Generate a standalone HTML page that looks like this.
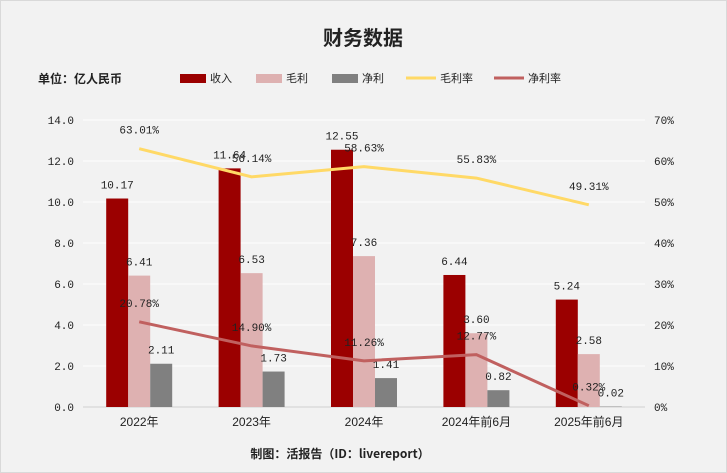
<!DOCTYPE html>
<html><head><meta charset="utf-8"><style>
body{margin:0;background:#fff}
#c{width:727px;height:473px;position:relative;background:#f2f2f2;overflow:hidden;font-family:"Liberation Sans","Noto Sans CJK SC",sans-serif}
svg{position:absolute;left:0;top:0}
</style></head><body>
<div id="c">
<svg id="s" width="727" height="473">
<rect x="0.5" y="0.5" width="726" height="472" fill="none" stroke="#d9d9d9"/>
<text x="363" y="45" text-anchor="middle" font-size="20" font-weight="bold" fill="#222" font-family="Noto Sans CJK SC,sans-serif">财务数据</text>
<text x="38" y="83" font-size="12" font-weight="bold" fill="#222" font-family="Noto Sans CJK SC,sans-serif">单位：亿人民币</text>
<text x="340" y="458" text-anchor="middle" font-size="12" font-weight="bold" fill="#222" font-family="Noto Sans CJK SC,sans-serif">制图：活报告（ID：livereport）</text>
</svg>
</div>
<script>
const categories=["2022年","2023年","2024年","2024年前6月","2025年前6月"];
const revenue=[10.17,11.64,12.55,6.44,5.24];
const grossProfit=[6.41,6.53,7.36,3.60,2.58];
const netProfit=[2.11,1.73,1.41,0.82,0.02];
const grossMargin=[63.01,56.14,58.63,55.83,49.31];
const netMargin=[20.78,14.90,11.26,12.77,0.32];
const leftTicks=[0,2,4,6,8,10,12,14];
const rightTicks=[0,10,20,30,40,50,60,70];
const NS="http://www.w3.org/2000/svg";
const svg=document.getElementById('s');
const L=83,R=645,T=120,B=407;
const yL=v=>B-(v/14)*(B-T);
const yR=v=>B-(v/70)*(B-T);
const bw=(R-L)/categories.length;
const xc=i=>L+bw*(i+0.5);
function mk(tag,a){const e=document.createElementNS(NS,tag);for(const k in a)e.setAttribute(k,a[k]);svg.appendChild(e);return e;}
function txt(x,y,s,a,size,fam){const t=mk('text',{x:x,y:y,'text-anchor':a||'middle','font-size':size||11,fill:'#222','font-family':fam||'Liberation Mono,monospace'});t.textContent=s;return t;}
leftTicks.forEach((v,i)=>{
 const g=mk('line',{x1:L,x2:R,y1:yL(v),y2:yL(v),stroke:v===0?'#d0d0d0':'#ffffff','stroke-width':1});
 
 
 const t=txt(74,yL(v)+4,v.toFixed(1),'end',11);
 
 
});
rightTicks.forEach(v=>{
 const t=txt(654,yR(v)+4,v+'%','start',11);
 
 
});
categories.forEach((c,i)=>{
 const t=txt(xc(i),426,c,'middle',12,'Liberation Sans,Noto Sans CJK SC,sans-serif');
 
 
});
const series=[[revenue,'#9b0000',-22,'bar-revenue'],[grossProfit,'#deb1b1',0,'bar-gross-profit'],[netProfit,'#808080',22,'bar-net-profit']];
series.forEach(([arr,col,off,nm])=>{
 arr.forEach((v,i)=>{
  const x=xc(i)+off-11;
  const r=mk('rect',{x:x,y:yL(v),width:22,height:B-yL(v),fill:col});
  
  
  const t=txt(xc(i)+off,yL(v)-10,v.toFixed(2));
  
  
 });
});
[[grossMargin,'#ffd966','line-gross-margin'],[netMargin,'#c0605f','line-net-margin']].forEach(([arr,col,nm])=>{
 const p=mk('polyline',{points:arr.map((v,i)=>xc(i)+','+yR(v)).join(' '),fill:'none',stroke:col,'stroke-width':3});
 
 
 arr.forEach((v,i)=>{
  const t=txt(xc(i),yR(v)-15,v.toFixed(2)+'%');
  
  
 });
});
const legend=[['收入','#9b0000','rect',180],['毛利','#deb1b1','rect',256],['净利','#808080','rect',332],['毛利率','#ffd966','line',406],['净利率','#c0605f','line',494]];
legend.forEach(([n,col,ty,x])=>{
 let m;
 if(ty==='rect')m=mk('rect',{x:x,y:74,width:26,height:9,fill:col});
 else m=mk('line',{x1:x,x2:x+30,y1:78,y2:78,stroke:col,'stroke-width':3});
 
 
 const t=txt(x+(ty==='rect'?30:34),82,n,'start',11,'Liberation Sans,Noto Sans CJK SC,sans-serif');
 
 
});
</script>
</body></html>
